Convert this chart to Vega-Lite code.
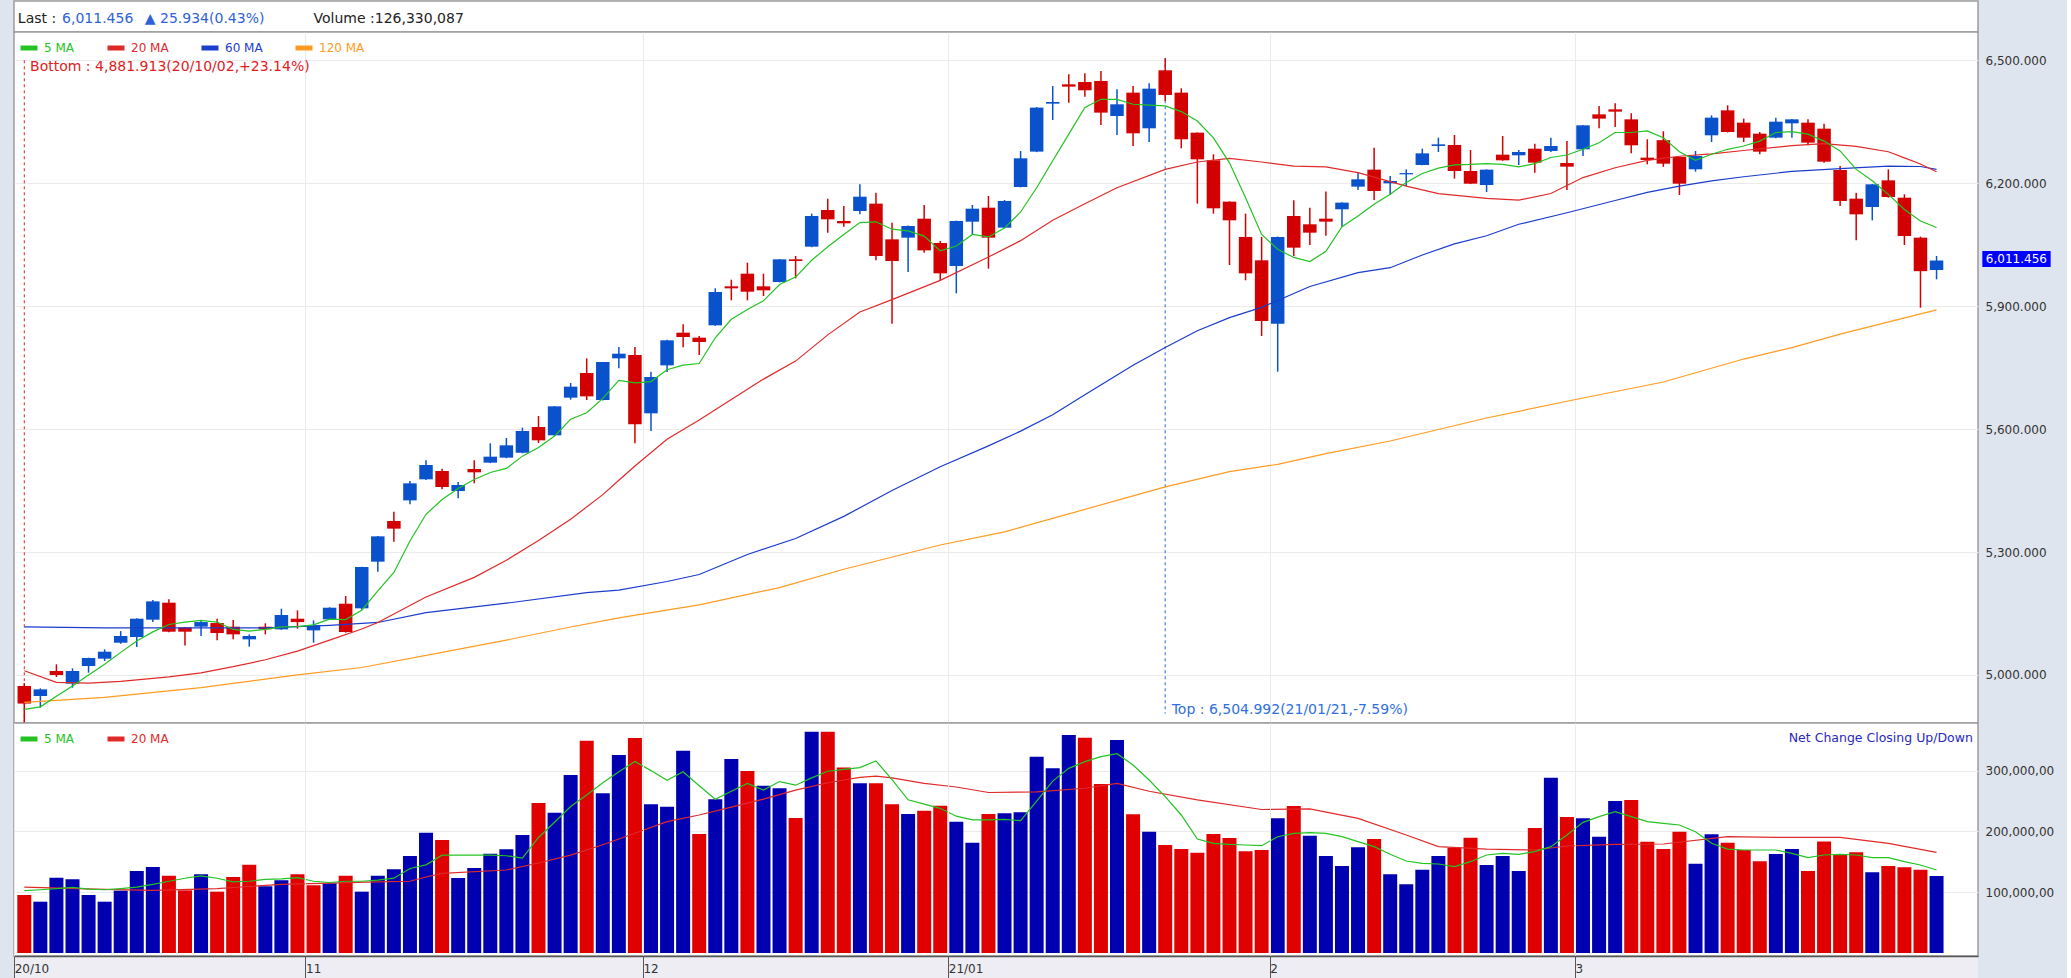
{
"$schema": "https://vega.github.io/schema/vega-lite/v6.json",
"background": "#dfe5ee",
"padding": {"left": 12, "top": 0, "right": 12, "bottom": 0},
"spacing": 0,
"bounds": "flush",
"config": {"font": "DejaVu Sans", "view": {"stroke": "#9c9c9c", "strokeWidth": 1.5, "fill": "white"}},
"resolve": {"scale": {"color": "independent"}, "legend": {"color": "independent"}},
"datasets": {"k": [
{"i":0,"o":4973,"h":4980,"l":4881.9,"c":4930,"v":95.4,"u":0,"5 MA":4916,"20 MA":5010,"60 MA":5117,"120 MA":4933,"v5":102.5,"v20":108.5},
{"i":1,"o":4948.5,"h":4967,"l":4920,"c":4964.7,"v":84.4,"u":1,"5 MA":4922,"v5":104},
{"i":2,"o":5009.5,"h":5025.8,"l":4994.8,"c":4999.7,"v":123.9,"u":1,"5 MA":4948,"20 MA":4982,"v5":106},
{"i":3,"o":4978.6,"h":5016,"l":4968.8,"c":5009.5,"v":121.2,"u":1,"5 MA":4973,"v5":108},
{"i":4,"o":5021.7,"h":5042,"l":5005.4,"c":5041.2,"v":95.4,"u":1,"5 MA":5000,"20 MA":4980,"v5":105},
{"i":5,"o":5039.6,"h":5062.4,"l":5033.9,"c":5056.7,"v":84.4,"u":1,"5 MA":5026,"60 MA":5115,"120 MA":4945,"v5":104,"v20":104.5},
{"i":6,"o":5078.6,"h":5107,"l":5076,"c":5094.9,"v":102.5,"u":1,"5 MA":5055,"20 MA":4984,"v5":106},
{"i":7,"o":5092.5,"h":5138,"l":5068,"c":5137.2,"v":134.9,"u":1,"5 MA":5083,"v5":108.5},
{"i":8,"o":5134.8,"h":5182.8,"l":5129,"c":5179.5,"v":141.4,"u":1,"5 MA":5105,"v5":113,"v20":103},
{"i":9,"o":5176.3,"h":5184.4,"l":5104,"c":5105.5,"v":127.2,"u":0,"5 MA":5123,"20 MA":4995,"v5":118},
{"i":10,"o":5116,"h":5117,"l":5072,"c":5105.5,"v":103.1,"u":0,"5 MA":5129,"60 MA":5115,"v5":123},
{"i":11,"o":5117.7,"h":5133,"l":5095,"c":5129,"v":129.4,"u":1,"5 MA":5133,"20 MA":5005,"120 MA":4969,"v5":127},
{"i":12,"o":5126.6,"h":5137,"l":5084.3,"c":5102.2,"v":100.9,"u":0,"5 MA":5129,"v5":123,"v20":106},
{"i":13,"o":5117.7,"h":5134,"l":5086.8,"c":5099,"v":125.0,"u":0,"5 MA":5111,"20 MA":5020,"v5":117},
{"i":14,"o":5086.8,"h":5099,"l":5069,"c":5094.9,"v":145.3,"u":0,"5 MA":5107,"v5":118},
{"i":15,"o":5117.7,"h":5125.8,"l":5099,"c":5111.2,"v":109.6,"u":1,"5 MA":5111,"20 MA":5037,"60 MA":5115,"v5":121},
{"i":16,"o":5111.2,"h":5161.6,"l":5110,"c":5146.2,"v":119.5,"u":1,"5 MA":5117,"v5":122,"v20":113},
{"i":17,"o":5137.2,"h":5157.6,"l":5112.8,"c":5129,"v":129.4,"u":0,"5 MA":5118,"20 MA":5058,"120 MA":5000,"v5":124},
{"i":18,"o":5108.7,"h":5133,"l":5078.6,"c":5121,"v":111.3,"u":0,"5 MA":5122,"v5":118},
{"i":19,"o":5135.6,"h":5165,"l":5134,"c":5164,"v":114.6,"u":1,"5 MA":5136,"20 MA":5085,"60 MA":5121,"v5":116},
{"i":20,"o":5173.8,"h":5192.6,"l":5103,"c":5104.7,"v":127.2,"u":0,"5 MA":5135,"v5":118},
{"i":21,"o":5162.5,"h":5264,"l":5160,"c":5263.4,"v":100.9,"u":1,"5 MA":5158,"20 MA":5112,"120 MA":5018,"v5":118},
{"i":22,"o":5276.4,"h":5339,"l":5252,"c":5338.2,"v":127.2,"u":1,"5 MA":5205,"20 MA":5128,"60 MA":5128,"v5":120,"v20":117},
{"i":23,"o":5375.7,"h":5398.4,"l":5325.2,"c":5357,"v":137.6,"u":1,"5 MA":5250,"v5":123},
{"i":24,"o":5426,"h":5473.3,"l":5416.3,"c":5467.6,"v":159.5,"u":1,"5 MA":5327,"v5":139,"v20":118},
{"i":25,"o":5477.4,"h":5523.8,"l":5476,"c":5512.4,"v":197.9,"u":1,"5 MA":5392,"20 MA":5190,"60 MA":5152,"v5":145,"v20":125},
{"i":26,"o":5497.7,"h":5503.4,"l":5453,"c":5458.6,"v":185.8,"u":0,"5 MA":5428,"120 MA":5055,"v5":161,"v20":131},
{"i":27,"o":5448.9,"h":5470.8,"l":5431,"c":5463.5,"v":123.3,"u":1,"5 MA":5455,"v5":161},
{"i":28,"o":5502.6,"h":5523.8,"l":5467.6,"c":5494.5,"v":139.8,"u":1,"5 MA":5477,"20 MA":5238,"v5":161},
{"i":29,"o":5518.1,"h":5565.2,"l":5517,"c":5532.7,"v":163.4,"u":1,"5 MA":5494,"v5":161},
{"i":30,"o":5530.3,"h":5578.2,"l":5529,"c":5560.4,"v":170.5,"u":1,"5 MA":5504,"20 MA":5280,"60 MA":5175,"120 MA":5085,"v5":160,"v20":136.5},
{"i":31,"o":5542.5,"h":5603.5,"l":5541,"c":5595.4,"v":194.1,"u":1,"5 MA":5534,"v5":156},
{"i":32,"o":5605.1,"h":5632,"l":5566,"c":5572.6,"v":246.7,"u":0,"5 MA":5555,"20 MA":5328,"v5":190,"v20":148},
{"i":33,"o":5584.8,"h":5656,"l":5583,"c":5655.6,"v":230.8,"u":1,"5 MA":5583,"v5":215},
{"i":34,"o":5676.7,"h":5712.5,"l":5671.8,"c":5703.6,"v":292.7,"u":1,"5 MA":5624,"20 MA":5380,"120 MA":5117,"v5":241,"v20":161},
{"i":35,"o":5736.9,"h":5772.7,"l":5671,"c":5679.9,"v":349.2,"u":0,"5 MA":5640,"60 MA":5201,"v5":260},
{"i":36,"o":5671,"h":5764,"l":5670,"c":5763.8,"v":262.6,"u":1,"5 MA":5675,"20 MA":5440,"v5":280,"v20":178},
{"i":37,"o":5772.7,"h":5800.4,"l":5748.3,"c":5784.1,"v":325.6,"u":1,"5 MA":5719,"20 MA":5475,"60 MA":5207,"120 MA":5139,"v5":298},
{"i":38,"o":5780.9,"h":5800.4,"l":5565.2,"c":5611.6,"v":353.6,"u":0,"5 MA":5713,"20 MA":5510,"v5":315,"v20":197},
{"i":39,"o":5638.5,"h":5740,"l":5595.4,"c":5727.2,"v":244.5,"u":1,"5 MA":5716,"v5":300},
{"i":40,"o":5755.6,"h":5818,"l":5739.4,"c":5816.7,"v":240.7,"u":1,"5 MA":5745,"20 MA":5575,"60 MA":5228,"v5":284,"v20":216},
{"i":41,"o":5835.4,"h":5855.7,"l":5799.6,"c":5824.8,"v":332.8,"u":1,"5 MA":5756,"v5":298},
{"i":42,"o":5823.2,"h":5827.2,"l":5780.8,"c":5812.6,"v":195.7,"u":0,"5 MA":5760,"20 MA":5622,"60 MA":5245,"120 MA":5171,"v5":275,"v20":227},
{"i":43,"o":5853.3,"h":5943.6,"l":5852,"c":5934.6,"v":252.7,"u":1,"5 MA":5823,"v5":253},
{"i":44,"o":5948.5,"h":5964.7,"l":5914.3,"c":5943.6,"v":319,"u":1,"5 MA":5868,"20 MA":5672,"v5":266,"v20":240},
{"i":45,"o":5979.4,"h":6006.2,"l":5914.3,"c":5935.4,"v":299.3,"u":0,"5 MA":5892,"60 MA":5294,"v5":279},
{"i":46,"o":5948.5,"h":5979.4,"l":5924.9,"c":5938.7,"v":275.2,"u":1,"5 MA":5913,"20 MA":5722,"v5":268,"v20":253},
{"i":47,"o":5959,"h":6015,"l":5958,"c":6014.4,"v":270.8,"u":1,"5 MA":5953,"120 MA":5213,"v5":282},
{"i":48,"o":6014.4,"h":6022.5,"l":5968,"c":6010.3,"v":222,"u":0,"5 MA":5971,"20 MA":5766,"60 MA":5333,"v5":276,"v20":268},
{"i":49,"o":6045.3,"h":6126,"l":6044,"c":6120.2,"v":364,"u":1,"5 MA":6012,"v5":288},
{"i":50,"o":6134.8,"h":6162.5,"l":6079.5,"c":6112,"v":364,"u":0,"5 MA":6045,"20 MA":5830,"v5":299,"v20":280},
{"i":51,"o":6107.9,"h":6144.6,"l":6094.1,"c":6102.3,"v":305.3,"u":0,"5 MA":6075,"60 MA":5387,"120 MA":5258,"v5":302},
{"i":52,"o":6132.4,"h":6197.5,"l":6124.2,"c":6167.3,"v":279,"u":1,"5 MA":6104,"20 MA":5886,"v5":305,"v20":289},
{"i":53,"o":6150.3,"h":6177.1,"l":6011.9,"c":6022.5,"v":279,"u":0,"5 MA":6106,"v5":316,"v20":291},
{"i":54,"o":6063.2,"h":6103.9,"l":5857.3,"c":6010.3,"v":244.5,"u":0,"5 MA":6088,"20 MA":5916,"60 MA":5450,"v5":285,"v20":288},
{"i":55,"o":6067.3,"h":6097,"l":5983.4,"c":6095.7,"v":228.6,"u":1,"5 MA":6084,"v5":252},
{"i":56,"o":6113.6,"h":6147,"l":6030.6,"c":6036.3,"v":234,"u":0,"5 MA":6071,"v5":245,"v20":279},
{"i":57,"o":6054.2,"h":6059.1,"l":5963.1,"c":5980.2,"v":242.3,"u":0,"5 MA":6035,"20 MA":5963,"60 MA":5508,"120 MA":5317,"v5":238},
{"i":58,"o":5998.1,"h":6109,"l":5931.4,"c":6107.9,"v":216,"u":1,"5 MA":6047,"v5":225,"v20":273},
{"i":59,"o":6106.3,"h":6147,"l":6075.4,"c":6138,"v":181.5,"u":1,"5 MA":6075,"v5":219},
{"i":60,"o":6140.5,"h":6169,"l":5991.6,"c":6067.3,"v":228.6,"u":0,"5 MA":6069,"20 MA":6020,"60 MA":5559,"v5":219,"v20":264},
{"i":61,"o":6091.7,"h":6159.3,"l":6090,"c":6156.8,"v":229.7,"u":1,"5 MA":6091,"120 MA":5349,"v5":219.8},
{"i":62,"o":6191,"h":6278.9,"l":6190,"c":6261,"v":231.3,"u":1,"5 MA":6130,"20 MA":6060,"60 MA":5595,"v5":217.6},
{"i":63,"o":6277.3,"h":6386,"l":6276,"c":6384.7,"v":322.9,"u":1,"5 MA":6189,"v5":249.9,"v20":265},
{"i":64,"o":6394.4,"h":6437.5,"l":6354.6,"c":6398.5,"v":303.7,"u":1,"5 MA":6255,"20 MA":6110,"60 MA":5635,"120 MA":5382,"v5":282.8},
{"i":65,"o":6441.6,"h":6466,"l":6396.9,"c":6435.9,"v":358.5,"u":1,"5 MA":6320,"v5":303.7},
{"i":66,"o":6447.3,"h":6468.5,"l":6411.5,"c":6427,"v":354.1,"u":0,"5 MA":6385,"20 MA":6150,"60 MA":5684,"v5":314.7,"v20":271},
{"i":67,"o":6449.8,"h":6474.2,"l":6342.3,"c":6372.5,"v":277.9,"u":0,"5 MA":6405,"v5":322.9},
{"i":68,"o":6364.3,"h":6429.4,"l":6317.9,"c":6392.8,"v":350.3,"u":1,"5 MA":6405,"20 MA":6189,"120 MA":5426,"v5":327.8,"v20":279},
{"i":69,"o":6421.3,"h":6437.5,"l":6291.1,"c":6322,"v":228.1,"u":0,"5 MA":6393,"60 MA":5756,"v5":309.2},
{"i":70,"o":6334.2,"h":6444,"l":6300.8,"c":6431,"v":199.5,"u":1,"5 MA":6391,"v5":284.5,"v20":266},
{"i":71,"o":6475.8,"h":6505,"l":6400.9,"c":6415.6,"v":177.6,"u":0,"5 MA":6389,"20 MA":6234,"60 MA":5799,"120 MA":5459,"v5":257.1},
{"i":72,"o":6421.3,"h":6431.9,"l":6285.4,"c":6307.4,"v":171,"u":0,"5 MA":6375,"v5":227},
{"i":73,"o":6323.6,"h":6324,"l":6150.3,"c":6258.5,"v":165,"u":0,"5 MA":6352,"20 MA":6252,"60 MA":5840,"v5":187.5,"v20":252},
{"i":74,"o":6256.1,"h":6270.7,"l":6125.9,"c":6138.9,"v":195.7,"u":0,"5 MA":6311,"v5":180.4},
{"i":75,"o":6155.2,"h":6156,"l":6000.6,"c":6109.6,"v":189.1,"u":0,"5 MA":6250,"20 MA":6261,"60 MA":5872,"120 MA":5496,"v5":178.7},
{"i":76,"o":6069,"h":6125.9,"l":5963.2,"c":5980.2,"v":167.2,"u":0,"5 MA":6165,"v5":177.6},
{"i":77,"o":6012,"h":6069,"l":5827.3,"c":5863.9,"v":169.4,"u":0,"5 MA":6075,"20 MA":6252,"60 MA":5897,"v5":176.5,"v20":236},
{"i":78,"o":5857.4,"h":6070,"l":5740.2,"c":6069,"v":221.5,"u":1,"5 MA":6039,"120 MA":5514,"v5":191.3},
{"i":79,"o":6120.2,"h":6158.4,"l":6022.5,"c":6042.9,"v":241.8,"u":0,"5 MA":6019,"20 MA":6242,"v5":196.8},
{"i":80,"o":6099.9,"h":6140.5,"l":6049.4,"c":6079.5,"v":193,"u":1,"5 MA":6009,"60 MA":5948,"v5":197.9,"v20":237},
{"i":81,"o":6113.7,"h":6180,"l":6072,"c":6106.4,"v":159.5,"u":1,"5 MA":6034,"20 MA":6240,"120 MA":5540,"v5":196.8},
{"i":82,"o":6136.5,"h":6153.5,"l":6094,"c":6152.8,"v":143.1,"u":1,"5 MA":6094,"v5":191.3},
{"i":83,"o":6191.8,"h":6225.9,"l":6183.6,"c":6209.7,"v":173.8,"u":1,"5 MA":6120,"20 MA":6226,"60 MA":5982,"v5":183.1,"v20":221.5},
{"i":84,"o":6233.3,"h":6287,"l":6159.2,"c":6181.2,"v":187.5,"u":0,"5 MA":6149,"v5":174.9},
{"i":85,"o":6199.9,"h":6217.8,"l":6171.4,"c":6205.6,"v":129.4,"u":1,"5 MA":6173,"60 MA":5994,"120 MA":5571,"v5":162.3},
{"i":86,"o":6221.9,"h":6234,"l":6193.4,"c":6225,"v":112.9,"u":1,"5 MA":6202,"20 MA":6193,"v5":151.3,"v20":194},
{"i":87,"o":6244.7,"h":6284.5,"l":6244,"c":6273.1,"v":137.1,"u":1,"5 MA":6224,"60 MA":6025,"v5":147.5},
{"i":88,"o":6291.1,"h":6311.4,"l":6276.4,"c":6295.1,"v":159.5,"u":1,"5 MA":6237,"20 MA":6175,"v5":146.4,"v20":175},
{"i":89,"o":6293.5,"h":6317.9,"l":6211.3,"c":6230,"v":173.2,"u":0,"5 MA":6245,"60 MA":6052,"v5":142},
{"i":90,"o":6230,"h":6281.3,"l":6198,"c":6199.1,"v":189.7,"u":0,"5 MA":6246,"v5":150.2},
{"i":91,"o":6195.8,"h":6234,"l":6178.7,"c":6233.3,"v":144.7,"u":1,"5 MA":6248,"20 MA":6163,"60 MA":6072,"120 MA":5627,"v5":161.2,"v20":171},
{"i":92,"o":6269.9,"h":6315.4,"l":6255,"c":6256.1,"v":159.5,"u":1,"5 MA":6246,"v5":163.9},
{"i":93,"o":6268.3,"h":6281.3,"l":6244.7,"c":6276.4,"v":134.9,"u":1,"5 MA":6240,"20 MA":6159,"60 MA":6100,"v5":162.3},
{"i":94,"o":6284.5,"h":6296.7,"l":6226,"c":6250.4,"v":205.6,"u":0,"5 MA":6248,"v5":166.7,"v20":169.4},
{"i":95,"o":6278.9,"h":6311.4,"l":6276.4,"c":6291,"v":288.4,"u":1,"5 MA":6263,"20 MA":6175,"v5":174.9},
{"i":96,"o":6249.5,"h":6303.2,"l":6183.6,"c":6240.6,"v":223.7,"u":0,"5 MA":6269,"60 MA":6128,"120 MA":5668,"v5":194.1,"v20":176},
{"i":97,"o":6282.9,"h":6342,"l":6266.6,"c":6341.5,"v":221.5,"u":1,"5 MA":6283,"20 MA":6214,"v5":214.9},
{"i":98,"o":6368.3,"h":6388.7,"l":6334.2,"c":6357.8,"v":191.3,"u":1,"5 MA":6299,"v5":224.2},
{"i":99,"o":6380.5,"h":6395.2,"l":6337.4,"c":6374.9,"v":250,"u":1,"5 MA":6324,"20 MA":6238,"60 MA":6158,"v5":232.4,"v20":178.7},
{"i":100,"o":6356.1,"h":6370.8,"l":6273.1,"c":6292.7,"v":251.6,"u":0,"5 MA":6324,"v5":224.2},
{"i":101,"o":6262.6,"h":6307.3,"l":6246.3,"c":6256.9,"v":183.1,"u":0,"5 MA":6328,"20 MA":6256,"60 MA":6178,"v5":216},
{"i":102,"o":6305.3,"h":6327,"l":6240.2,"c":6247.9,"v":171,"u":0,"5 MA":6311,"120 MA":5715,"v5":213.2,"v20":179.3},
{"i":103,"o":6264.2,"h":6265,"l":6171.4,"c":6199.1,"v":199.5,"u":0,"5 MA":6277,"20 MA":6266,"60 MA":6193,"v5":210.5},
{"i":104,"o":6234.1,"h":6278.8,"l":6228.4,"c":6266.6,"v":146.9,"u":1,"5 MA":6256,"v5":199.5},
{"i":105,"o":6317.1,"h":6365.9,"l":6300.8,"c":6360.2,"v":195.2,"u":1,"5 MA":6271,"20 MA":6272,"60 MA":6206,"v5":180.4},
{"i":106,"o":6378.1,"h":6390.3,"l":6324,"c":6325.2,"v":181.5,"u":0,"5 MA":6283,"v5":171,"v20":191.3},
{"i":107,"o":6348,"h":6357.8,"l":6300.8,"c":6311.4,"v":169.4,"u":0,"5 MA":6291,"20 MA":6280,"60 MA":6216,"120 MA":5771,"v5":169.4},
{"i":108,"o":6321.1,"h":6325.2,"l":6270.7,"c":6277.2,"v":150.8,"u":0,"5 MA":6303,"v5":169.4},
{"i":109,"o":6311.4,"h":6360.2,"l":6310,"c":6350.4,"v":162.8,"u":1,"5 MA":6324,"v5":169.4,"v20":190.2},
{"i":110,"o":6346.4,"h":6357,"l":6311.4,"c":6356.1,"v":171,"u":1,"5 MA":6326,"20 MA":6292,"60 MA":6229,"120 MA":5799,"v5":163.9},
{"i":111,"o":6348,"h":6356.1,"l":6292.7,"c":6299.2,"v":134.9,"u":0,"5 MA":6320,"v5":156.8},
{"i":112,"o":6333.4,"h":6345.6,"l":6250.4,"c":6252.8,"v":183.6,"u":0,"5 MA":6303,"20 MA":6297,"v5":161.2},
{"i":113,"o":6232.5,"h":6242.2,"l":6144.6,"c":6156.8,"v":161.2,"u":0,"5 MA":6279,"60 MA":6236,"120 MA":5832,"v5":162.3,"v20":190.2},
{"i":114,"o":6162.5,"h":6177.1,"l":6060.8,"c":6124.2,"v":165.6,"u":0,"5 MA":6234,"20 MA":6290,"v5":161.2},
{"i":115,"o":6142.1,"h":6198,"l":6109.6,"c":6197.5,"v":132.7,"u":1,"5 MA":6206,"v5":156.8},
{"i":116,"o":6207.2,"h":6234.1,"l":6165,"c":6166.5,"v":143.1,"u":0,"5 MA":6173,"20 MA":6277,"60 MA":6242,"v5":156.8,"v20":180.4},
{"i":117,"o":6164.9,"h":6173,"l":6049.4,"c":6071.3,"v":140.9,"u":0,"5 MA":6136,"20 MA":6262,"v5":150.2},
{"i":118,"o":6067.3,"h":6069.7,"l":5896.4,"c":5985.5,"v":137.1,"u":0,"5 MA":6108,"20 MA":6247,"60 MA":6241,"v5":144.7},
{"i":119,"o":5988.3,"h":6022.5,"l":5965.6,"c":6011.5,"v":126.6,"u":1,"5 MA":6092,"20 MA":6228,"60 MA":6234,"120 MA":5891,"v5":136.5,"v20":165.6}
]},
"vconcat": [
{
"width": 1964, "height": 31,
"data": {"values": [{}]},
"encoding": {
  "x": {"type": "quantitative", "scale": {"domain": [-0.64, 121.58], "nice": false, "zero": false, "padding": 0}, "axis": null},
  "y": {"type": "quantitative", "scale": {"domain": [0, 1], "nice": false}, "axis": null}
},
"layer": [
  {"mark": {"type": "text", "align": "left", "baseline": "middle", "fontSize": 14, "color": "#222222"},
   "encoding": {"x": {"datum": -0.4, "type": "quantitative"}, "y": {"datum": 0.42, "type": "quantitative"}, "text": {"value": "Last :"}}},
  {"mark": {"type": "text", "align": "left", "baseline": "middle", "fontSize": 14, "color": "#2f62d6"},
   "encoding": {"x": {"datum": 2.35, "type": "quantitative"}, "y": {"datum": 0.42, "type": "quantitative"}, "text": {"value": "6,011.456"}}},
  {"mark": {"type": "text", "align": "left", "baseline": "middle", "fontSize": 14, "color": "#2f62d6"},
   "encoding": {"x": {"datum": 7.5, "type": "quantitative"}, "y": {"datum": 0.42, "type": "quantitative"}, "text": {"value": "▲ 25.934(0.43%)"}}},
  {"mark": {"type": "text", "align": "left", "baseline": "middle", "fontSize": 14, "color": "#222222"},
   "encoding": {"x": {"datum": 18.0, "type": "quantitative"}, "y": {"datum": 0.42, "type": "quantitative"}, "text": {"value": "Volume :126,330,087"}}}
]
},
{
"width": 1964, "height": 691,
"data": {"name": "k"},
"encoding": {
  "x": {"type": "quantitative", "scale": {"domain": [-0.64, 121.58], "nice": false, "zero": false, "padding": 0},
        "axis": {"values": [17.5, 38.5, 57.5, 77.5, 96.5], "grid": true, "gridColor": "#ebebeb", "labels": false, "ticks": false, "domain": false, "title": null}},
  "y": {"type": "quantitative", "scale": {"domain": [4882.6, 6569.3], "nice": false, "zero": false},
        "axis": {"orient": "right", "values": [5000, 5300, 5600, 5900, 6200, 6500], "format": ",.3f", "grid": true, "gridColor": "#ebebeb", "ticks": false, "domain": false, "labelPadding": 7, "labelFontSize": 12, "labelColor": "#333333", "title": null}}
},
"layer": [
  {"data": {"values": [{}]}, "mark": {"type": "rule", "color": "#e02020", "strokeDash": [3, 3], "strokeWidth": 1},
   "encoding": {"x": {"datum": 0}, "y": {"datum": 4881.9}, "y2": {"datum": 6506}}},
  {"data": {"values": [{}]}, "mark": {"type": "rule", "color": "#4a80e0", "strokeDash": [3, 3], "strokeWidth": 1.2},
   "encoding": {"x": {"datum": 71}, "y": {"datum": 6505}, "y2": {"datum": 4906}}},
  {"mark": {"type": "rule", "strokeWidth": 1.5},
   "encoding": {"x": {"field": "i"}, "y": {"field": "l"}, "y2": {"field": "h"},
     "color": {"condition": {"test": "datum.c >= datum.o", "value": "#0a52cc"}, "value": "#d20000"}}},
  {"mark": {"type": "bar", "width": 13.5},
   "encoding": {"x": {"field": "i"}, "y": {"field": "o"}, "y2": {"field": "c"},
     "color": {"condition": {"test": "datum.c >= datum.o", "value": "#0a52cc"}, "value": "#d20000"}}},
  {"transform": [{"fold": ["120 MA", "60 MA", "20 MA", "5 MA"], "as": ["s", "p"]}, {"filter": "isValid(datum.p)"}],
   "mark": {"type": "line", "strokeWidth": 1.2},
   "encoding": {"x": {"field": "i"}, "y": {"field": "p"},
     "color": {"field": "s", "type": "nominal",
       "scale": {"domain": ["5 MA", "20 MA", "60 MA", "120 MA"], "range": ["#22c322", "#e02a2a", "#1c3ccc", "#ff9b22"]},
       "legend": {"title": null, "orient": "none", "legendX": 4, "legendY": 5, "direction": "horizontal",
         "symbolType": "stroke", "symbolStrokeWidth": 5, "symbolSize": 289, "labelFontSize": 12, "labelOffset": 4,
         "columnPadding": 22, "padding": 0,
         "encode": {"labels": {"update": {"fill": [
           {"test": "datum.value === '5 MA'", "value": "#22c322"},
           {"test": "datum.value === '20 MA'", "value": "#e02a2a"},
           {"test": "datum.value === '60 MA'", "value": "#1c3ccc"},
           {"value": "#ff9b22"}]}}}}}}},
  {"data": {"values": [{}]}, "mark": {"type": "text", "align": "left", "baseline": "middle", "fontSize": 14, "color": "#e0201c"},
   "encoding": {"x": {"datum": 0.36}, "y": {"datum": 6484}, "text": {"value": "Bottom : 4,881.913(20/10/02,+23.14%)"}}},
  {"data": {"values": [{}]}, "mark": {"type": "text", "align": "left", "baseline": "middle", "fontSize": 14, "color": "#2f6fe0"},
   "encoding": {"x": {"datum": 71.4}, "y": {"datum": 4914}, "text": {"value": "Top : 6,504.992(21/01/21,-7.59%)"}}},
  {"data": {"values": [{}]}, "mark": {"type": "rect", "color": "#0000ff"},
   "encoding": {"x": {"datum": 121.85}, "x2": {"datum": 126.1}, "y": {"datum": 6034.5}, "y2": {"datum": 5995.5}}},
  {"data": {"values": [{}]}, "mark": {"type": "text", "align": "center", "baseline": "middle", "fontSize": 12, "color": "white"},
   "encoding": {"x": {"datum": 123.97}, "y": {"datum": 6015}, "text": {"value": "6,011.456"}}}
]
},
{
"width": 1964, "height": 233,
"data": {"name": "k"},
"encoding": {
  "x": {"type": "quantitative", "scale": {"domain": [-0.64, 121.58], "nice": false, "zero": false, "padding": 0},
        "axis": {"values": [-0.63, 17.5, 38.5, 57.5, 77.5, 96.5], "zindex": 1,
          "labelExpr": "datum.value < 0 ? '20/10' : datum.value < 20 ? '11' : datum.value < 40 ? '12' : datum.value < 60 ? '21/01' : datum.value < 80 ? '2' : '3'",
          "grid": true, "gridColor": "#ebebeb", "tickSize": 23, "tickColor": "#555555", "tickWidth": 1,
          "labelAlign": "left", "labelBaseline": "middle", "labelPadding": -11, "labelDx": 3, "labelFontSize": 12, "labelColor": "#333333",
          "labelFlush": false, "labelOverlap": false, "domainColor": "#555555", "domainWidth": 1.5, "title": null}},
  "y": {"type": "quantitative", "scale": {"domain": [-4.93, 378.3], "nice": false, "zero": false},
        "axis": {"orient": "right", "values": [100, 200, 300], "labelExpr": "datum.value + ',000,00'", "grid": true, "gridColor": "#ebebeb",
          "ticks": false, "domain": false, "labelPadding": 7, "labelFontSize": 12, "labelColor": "#333333", "title": null}}
},
"layer": [
  {"data": {"values": [{}]}, "mark": {"type": "rect", "color": "#ededf3"},
   "encoding": {"x": {"datum": -0.64}, "x2": {"datum": 121.58}, "y": {"datum": -4.93}, "y2": {"datum": -42.8}}},
  {"mark": {"type": "bar", "width": 14},
   "encoding": {"x": {"field": "i"}, "y": {"field": "v"}, "y2": {"datum": 0},
     "color": {"condition": {"test": "datum.u == 1", "value": "#0000b0"}, "value": "#e00000"}}},
  {"transform": [{"fold": ["v20", "v5"], "as": ["s", "p"]}, {"filter": "isValid(datum.p)"}],
   "mark": {"type": "line", "strokeWidth": 1.2},
   "encoding": {"x": {"field": "i"}, "y": {"field": "p"},
     "color": {"field": "s", "type": "nominal",
       "scale": {"domain": ["v5", "v20"], "range": ["#22c322", "#e02a2a"]},
       "legend": {"title": null, "orient": "none", "legendX": 4, "legendY": 5, "direction": "horizontal",
         "labelExpr": "datum.label == 'v5' ? '5 MA' : '20 MA'",
         "symbolType": "stroke", "symbolStrokeWidth": 5, "symbolSize": 289, "labelFontSize": 12, "labelOffset": 4,
         "columnPadding": 22, "padding": 0,
         "encode": {"labels": {"update": {"fill": [
           {"test": "datum.value === 'v5'", "value": "#22c322"},
           {"value": "#e02a2a"}]}}}}}}},
  {"data": {"values": [{}]}, "mark": {"type": "text", "align": "right", "baseline": "middle", "fontSize": 12.5, "color": "#2828c0"},
   "encoding": {"x": {"datum": 121.26}, "y": {"datum": 353.6}, "text": {"value": "Net Change Closing Up/Down"}}}
]
}
]
}
